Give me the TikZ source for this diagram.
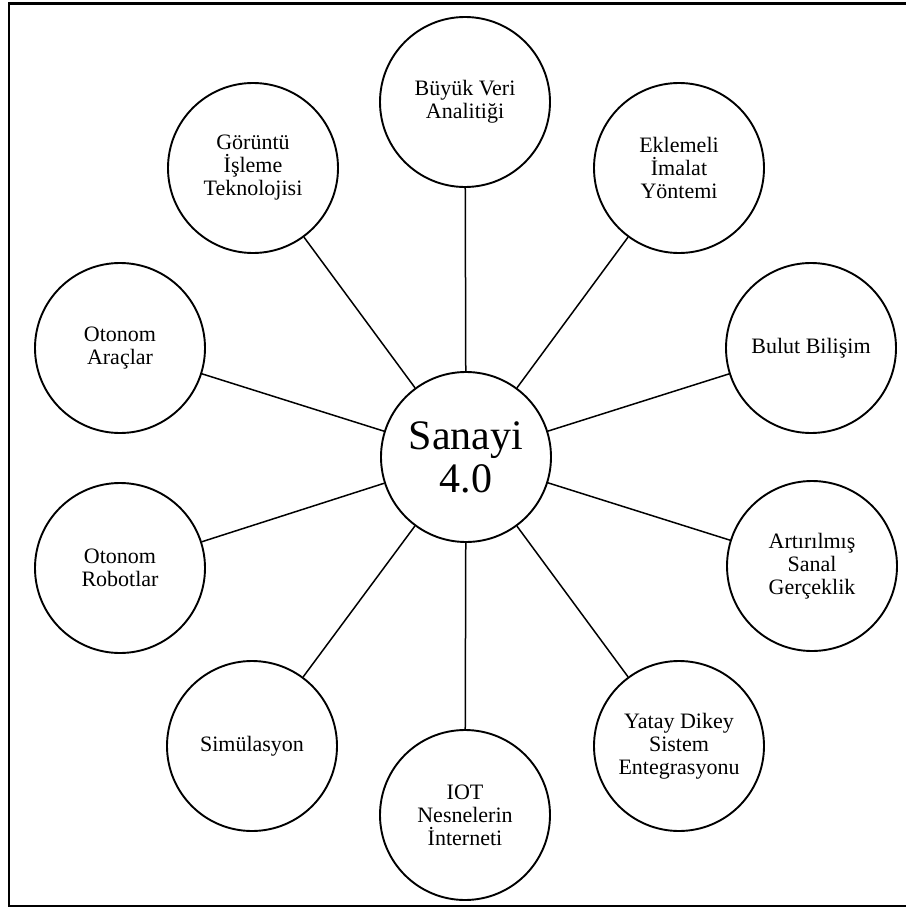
\documentclass[tikz,border=0pt]{standalone}
\usepackage{fontspec}
\setmainfont{Liberation Serif}
\begin{document}
\begin{tikzpicture}[x=1pt,y=-1pt,
  bubble/.style={circle, draw, line width=1.9pt, minimum size=170pt, inner sep=0pt,
    align=center, font=\fontsize{22}{23}\selectfont},
  hub/.style={bubble, font=\fontsize{42}{43}\selectfont},
  spoke/.style={line width=1.5pt},
  frame/.style={line width=2.6pt}]
\useasboundingbox (0,0) rectangle (905,907);
% outer frame
\draw[frame] (908,3.5) -- (9,3.5) -- (9,906) -- (908,906);

% central topic
\node[hub] (hub) at (466,457) {Sanayi\\4.0};

% surrounding topics
\node[bubble] (veri)   at (465,102) {Büyük Veri\\Analitiği};
\node[bubble] (eklem)  at (679,168) {Eklemeli\\İmalat\\Yöntemi};
\node[bubble] (bulut)  at (811,348) {Bulut Bilişim};
\node[bubble] (sanal)  at (812,566) {Artırılmış\\Sanal\\Gerçeklik};
\node[bubble] (sistem) at (679,746) {Yatay Dikey\\Sistem\\Entegrasyonu};
\node[bubble] (iot)    at (465,815) {IOT\\Nesnelerin\\İnterneti};
\node[bubble] (simul)  at (252,746) {Simülasyon};
\node[bubble] (robot)  at (120,568) {Otonom\\Robotlar};
\node[bubble] (arac)   at (120,348) {Otonom\\Araçlar};
\node[bubble] (goruntu) at (253,168) {Görüntü\\İşleme\\Teknolojisi};

% spokes
\foreach \t in {veri,eklem,bulut,sanal,sistem,iot,simul,robot,arac,goruntu}
  \draw[spoke] (hub) -- (\t);
\end{tikzpicture}
\end{document}
